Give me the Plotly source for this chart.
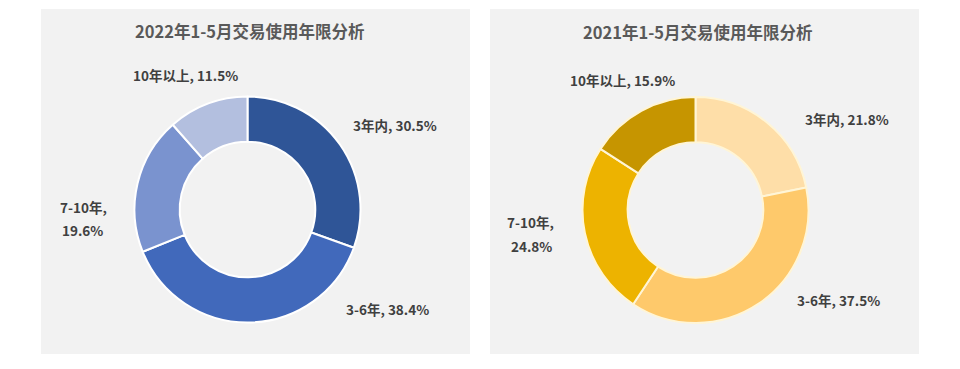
import plotly.graph_objects as go

categories = ["3年内", "3-6年", "7-10年", "10年以上"]
values_2022 = [30.5, 38.4, 19.6, 11.5]
values_2021 = [21.8, 37.5, 24.8, 15.9]
title_2022 = "2022年1-5月交易使用年限分析"
title_2021 = "2021年1-5月交易使用年限分析"
colors_2022 = ["#2F5597", "#4169BB", "#7A93CF", "#B3BFDF"]
colors_2021 = ["#FEDEA8", "#FEC96B", "#EDB300", "#C69500"]

# page body has an 8px default margin; figure is sized to fit the 960x369 window
OFF = 8
W, H = 960 - 2 * OFF, 369 - 2 * OFF
FONT = "Noto Sans CJK SC"

def px(x):
    return (x - OFF) / W

def py(y):
    return (H - (y - OFF)) / H

def dom(cx, cy, r):
    return dict(x=[px(cx - r), px(cx + r)], y=[py(cy + r), py(cy - r)])

fig = go.Figure()
fig.add_trace(go.Pie(
    labels=categories, values=values_2022, sort=False, direction="clockwise",
    rotation=0, hole=0.6, textinfo="none", hoverinfo="label+percent",
    marker=dict(colors=colors_2022, line=dict(color="#FFFFFF", width=2)),
    domain=dom(247.5, 209.5, 113), showlegend=False,
))
fig.add_trace(go.Pie(
    labels=categories, values=values_2021, sort=False, direction="clockwise",
    rotation=0, hole=0.6, textinfo="none", hoverinfo="label+percent",
    marker=dict(colors=colors_2021, line=dict(color="#FFF5D6", width=2)),
    domain=dom(695.5, 210, 113), showlegend=False,
))

shapes = [
    dict(type="rect", xref="paper", yref="paper", x0=px(41), x1=px(470),
         y0=py(354), y1=py(9), fillcolor="#F2F2F2", line=dict(width=0), layer="below"),
    dict(type="rect", xref="paper", yref="paper", x0=px(490), x1=px(919),
         y0=py(354), y1=py(9), fillcolor="#F2F2F2", line=dict(width=0), layer="below"),
]

annotations = [
    dict(text=f"<b>{title_2022}</b>", x=px(249.5), y=py(31), xref="paper", yref="paper",
         showarrow=False, font=dict(size=16.5, color="#595959", family=FONT), xanchor="center", yanchor="middle"),
    dict(text=f"<b>{title_2021}</b>", x=px(697.5), y=py(32), xref="paper", yref="paper",
         showarrow=False, font=dict(size=16.5, color="#595959", family=FONT), xanchor="center", yanchor="middle"),
]

# (category index, line text builder, x, y) label placements
def add_label(text, x, y):
    annotations.append(dict(
        text=f"<b>{text}</b>", x=px(x), y=py(y), xref="paper", yref="paper",
        showarrow=False, font=dict(size=13.5, color="#404040", family=FONT),
        xanchor="center", yanchor="middle", align="center",
    ))

pos_2022 = {0: (395, 125), 1: (387.5, 309), 3: (185, 75)}
pos_2021 = {0: (847, 119), 1: (838, 300), 3: (622, 80)}
split_2022 = ((83, 207), (82, 230))
split_2021 = ((530, 222), (531, 246))

for vals, pos, split in ((values_2022, pos_2022, split_2022), (values_2021, pos_2021, split_2021)):
    for i, (x, y) in pos.items():
        add_label(f"{categories[i]}, {vals[i]}%", x, y)
    add_label(f"{categories[2]},", *split[0])
    add_label(f"{vals[2]}%", *split[1])

fig.update_layout(
    width=W, height=H, margin=dict(l=0, r=0, t=0, b=0),
    paper_bgcolor="#FFFFFF", plot_bgcolor="#FFFFFF",
    shapes=shapes, annotations=annotations,
)
fig.write_html("out.html")
